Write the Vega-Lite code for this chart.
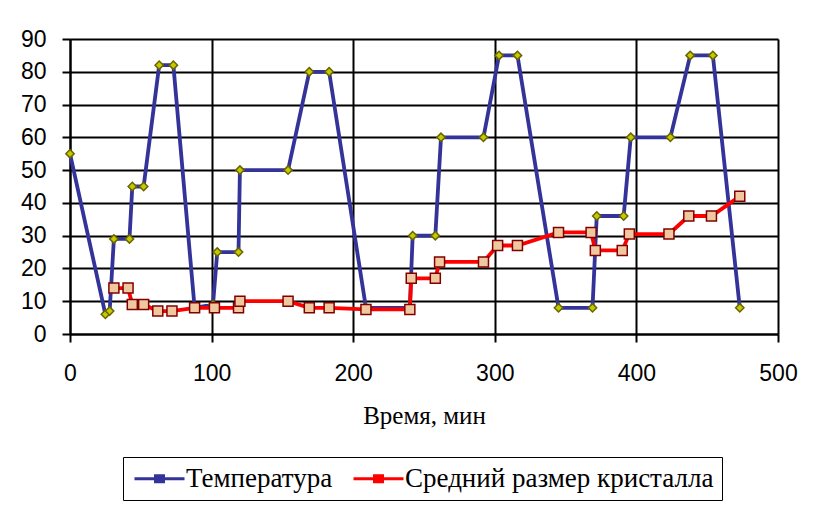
{
  "$schema": "https://vega.github.io/schema/vega-lite/v6.json",
  "width": 708,
  "height": 295,
  "autosize": "none",
  "padding": {"left": 70, "top": 39, "right": 45, "bottom": 173},
  "background": "white",
  "config": {
    "view": {"stroke": null},
    "axis": {
      "domainColor": "black", "domainWidth": 2,
      "gridColor": "black", "gridWidth": 2, "gridOpacity": 1,
      "tickColor": "black", "tickWidth": 2, "tickSize": 8,
      "labelFont": "Liberation Sans", "labelFontSize": 23, "labelColor": "black",
      "titleFont": "Liberation Serif", "titleFontSize": 25, "titleFontWeight": "normal", "titleColor": "black"
    },
    "legend": {
      "title": null, "orient": "none", "legendX": 53, "legendY": 418,
      "direction": "horizontal",
      "strokeColor": "black", "padding": 8,
      "labelFont": "Liberation Serif", "labelFontSize": 27, "labelColor": "black", "labelLimit": 600,
      "symbolType": "M-2.5,0H2.5M-0.4,-0.3H0.4V0.3H-0.4Z",
      "symbolSize": 400, "symbolStrokeWidth": 3, "symbolOffset": 15,
      "columnPadding": 14, "labelOffset": 13
    },
    "style": {"guide-label": {"font": "Liberation Serif"}}
  },
  "data": {
    "values": [
      {"series": "Температура", "t": 0, "v": 55},
      {"series": "Температура", "t": 25, "v": 6},
      {"series": "Температура", "t": 28, "v": 7},
      {"series": "Температура", "t": 31, "v": 29},
      {"series": "Температура", "t": 42, "v": 29},
      {"series": "Температура", "t": 44, "v": 45},
      {"series": "Температура", "t": 52, "v": 45},
      {"series": "Температура", "t": 63, "v": 82},
      {"series": "Температура", "t": 73, "v": 82},
      {"series": "Температура", "t": 88, "v": 8},
      {"series": "Температура", "t": 101, "v": 9},
      {"series": "Температура", "t": 104, "v": 25},
      {"series": "Температура", "t": 119, "v": 25},
      {"series": "Температура", "t": 120, "v": 50},
      {"series": "Температура", "t": 154, "v": 50},
      {"series": "Температура", "t": 169, "v": 80},
      {"series": "Температура", "t": 183, "v": 80},
      {"series": "Температура", "t": 209, "v": 8},
      {"series": "Температура", "t": 240, "v": 8},
      {"series": "Температура", "t": 242, "v": 30},
      {"series": "Температура", "t": 258, "v": 30},
      {"series": "Температура", "t": 262, "v": 60},
      {"series": "Температура", "t": 292, "v": 60},
      {"series": "Температура", "t": 303, "v": 85},
      {"series": "Температура", "t": 316, "v": 85},
      {"series": "Температура", "t": 345, "v": 8},
      {"series": "Температура", "t": 369, "v": 8},
      {"series": "Температура", "t": 372, "v": 36},
      {"series": "Температура", "t": 391, "v": 36},
      {"series": "Температура", "t": 396, "v": 60},
      {"series": "Температура", "t": 424, "v": 60},
      {"series": "Температура", "t": 438, "v": 85},
      {"series": "Температура", "t": 454, "v": 85},
      {"series": "Температура", "t": 473, "v": 8},
      {"series": "Средний размер кристалла", "t": 31, "v": 14},
      {"series": "Средний размер кристалла", "t": 41, "v": 14},
      {"series": "Средний размер кристалла", "t": 44, "v": 9},
      {"series": "Средний размер кристалла", "t": 52, "v": 9},
      {"series": "Средний размер кристалла", "t": 62, "v": 7},
      {"series": "Средний размер кристалла", "t": 72, "v": 7},
      {"series": "Средний размер кристалла", "t": 88, "v": 8},
      {"series": "Средний размер кристалла", "t": 102, "v": 8},
      {"series": "Средний размер кристалла", "t": 119, "v": 8},
      {"series": "Средний размер кристалла", "t": 120, "v": 10},
      {"series": "Средний размер кристалла", "t": 154, "v": 10},
      {"series": "Средний размер кристалла", "t": 169, "v": 8},
      {"series": "Средний размер кристалла", "t": 183, "v": 8},
      {"series": "Средний размер кристалла", "t": 209, "v": 7.5},
      {"series": "Средний размер кристалла", "t": 240, "v": 7.5},
      {"series": "Средний размер кристалла", "t": 241, "v": 17},
      {"series": "Средний размер кристалла", "t": 258, "v": 17},
      {"series": "Средний размер кристалла", "t": 261, "v": 22},
      {"series": "Средний размер кристалла", "t": 292, "v": 22},
      {"series": "Средний размер кристалла", "t": 302, "v": 27},
      {"series": "Средний размер кристалла", "t": 316, "v": 27},
      {"series": "Средний размер кристалла", "t": 345, "v": 31},
      {"series": "Средний размер кристалла", "t": 368, "v": 31},
      {"series": "Средний размер кристалла", "t": 371, "v": 25.5},
      {"series": "Средний размер кристалла", "t": 390, "v": 25.5},
      {"series": "Средний размер кристалла", "t": 395, "v": 30.5},
      {"series": "Средний размер кристалла", "t": 423, "v": 30.5},
      {"series": "Средний размер кристалла", "t": 437, "v": 36},
      {"series": "Средний размер кристалла", "t": 453, "v": 36},
      {"series": "Средний размер кристалла", "t": 473, "v": 42}
    ]
  },
  "encoding": {
    "x": {
      "field": "t", "type": "quantitative",
      "scale": {"domain": [0, 500], "nice": false, "zero": false},
      "axis": {"values": [0, 100, 200, 300, 400, 500], "title": "Время, мин", "labelPadding": 20, "titlePadding": 18, "labelFlush": false, "labelFont": "Liberation Sans"}
    },
    "y": {
      "field": "v", "type": "quantitative",
      "scale": {"domain": [0, 90], "nice": false},
      "axis": {"values": [0, 10, 20, 30, 40, 50, 60, 70, 80, 90], "title": null, "labelPadding": 16, "labelFlush": false, "labelFont": "Liberation Sans"}
    }
  },
  "layer": [
    {
      "mark": {"type": "line", "strokeWidth": 3.8, "strokeJoin": "miter"},
      "encoding": {
        "stroke": {
          "field": "series", "type": "nominal",
          "scale": {"domain": ["Температура", "Средний размер кристалла"], "range": ["#333399", "#FF0000"]},
          "legend": {"labelFont": "Liberation Serif", "labelFontSize": 27}
        }
      }
    },
    {
      "mark": {"type": "point", "filled": true, "strokeWidth": 1.5, "opacity": 1},
      "encoding": {
        "fill": {
          "field": "series", "type": "nominal",
          "scale": {"domain": ["Температура", "Средний размер кристалла"], "range": ["#C8C800", "#F0C8A0"]},
          "legend": {"labelFont": "Liberation Serif", "labelFontSize": 27}
        },
        "shape": {
          "condition": {"test": "datum.series === 'Температура'", "value": "diamond"},
          "value": "square"
        },
        "size": {
          "condition": {"test": "datum.series === 'Температура'", "value": 70},
          "value": 100
        },
        "stroke": {
          "condition": {"test": "datum.series === 'Температура'", "value": "#666600"},
          "value": "#800000"
        }
      }
    }
  ]
}
